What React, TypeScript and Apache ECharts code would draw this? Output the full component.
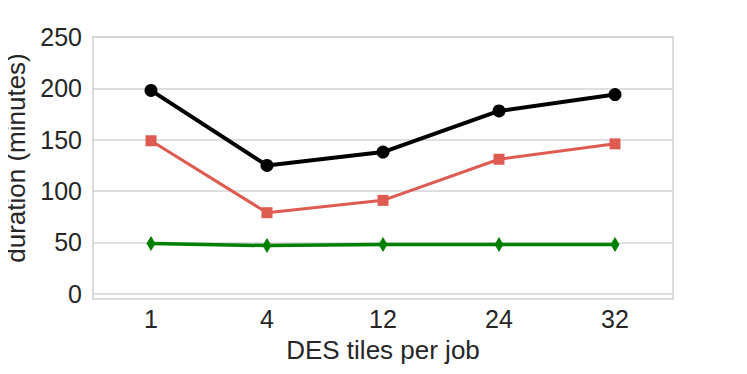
import React, { useEffect, useRef } from "react";
import * as echarts from "echarts";

const categories = ["1", "4", "12", "24", "32"];
const blackValues = [198, 125, 138, 178, 194];
const redValues = [149, 79, 91, 131, 146];
const greenValues = [49, 47, 48, 48, 48];
const yTicks = [0, 50, 100, 150, 200, 250];

const FONT = "Liberation Sans, Arial, sans-serif";

export default function App() {
  const ref = useRef<HTMLDivElement>(null);
  useEffect(() => {
    if (!ref.current) return;
    const chart = echarts.init(ref.current, undefined, { renderer: "svg" });
    chart.setOption({
      animation: false,
      backgroundColor: "#ffffff",
      grid: {
        left: 93,
        top: 37,
        right: 74,
        bottom: 75,
        show: true,
        borderColor: "#d0d0d0",
        borderWidth: 1.5,
        containLabel: false,
        outerBoundsMode: "none",
      },
      xAxis: {
        type: "category",
        data: categories,
        boundaryGap: true,
        axisLine: { show: false },
        axisTick: { show: false },
        splitLine: { show: false },
        axisLabel: { color: "#262626", fontSize: 25, fontFamily: FONT, margin: 7 },
        name: "DES tiles per job",
        nameLocation: "middle",
        nameGap: 38,
        nameTextStyle: { color: "#262626", fontSize: 26, fontFamily: FONT },
      },
      yAxis: {
        type: "value",
        min: -5,
        max: 250,
        axisLine: { show: false },
        axisTick: { show: false, customValues: yTicks },
        axisLabel: {
          color: "#262626",
          fontSize: 25,
          fontFamily: FONT,
          margin: 11,
          customValues: yTicks,
        },
        splitLine: { show: true, lineStyle: { color: "#d4d4d4", width: 1.5 } },
        name: "duration (minutes)",
        nameLocation: "middle",
        nameGap: 58,
        nameTextStyle: {
          color: "#262626",
          fontSize: 26,
          fontFamily: FONT,
          padding: [0, 0, 0, 20],
        },
      },
      series: [
        {
          type: "line",
          data: greenValues,
          symbol: "diamond",
          symbolSize: [9, 15],
          lineStyle: { color: "#008000", width: 3.5 },
          itemStyle: { color: "#008000" },
          z: 3,
        },
        {
          type: "line",
          data: redValues,
          symbol: "rect",
          symbolSize: 11,
          lineStyle: { color: "#de5b52", width: 3 },
          itemStyle: { color: "#de5b52" },
          z: 4,
        },
        {
          type: "line",
          data: blackValues,
          symbol: "circle",
          symbolSize: 13,
          lineStyle: { color: "#000000", width: 4 },
          itemStyle: { color: "#000000" },
          z: 5,
        },
      ],
    });
    return () => chart.dispose();
  }, []);
  return <div ref={ref} style={{ width: 747, height: 374, margin: -8 }} />;
}
